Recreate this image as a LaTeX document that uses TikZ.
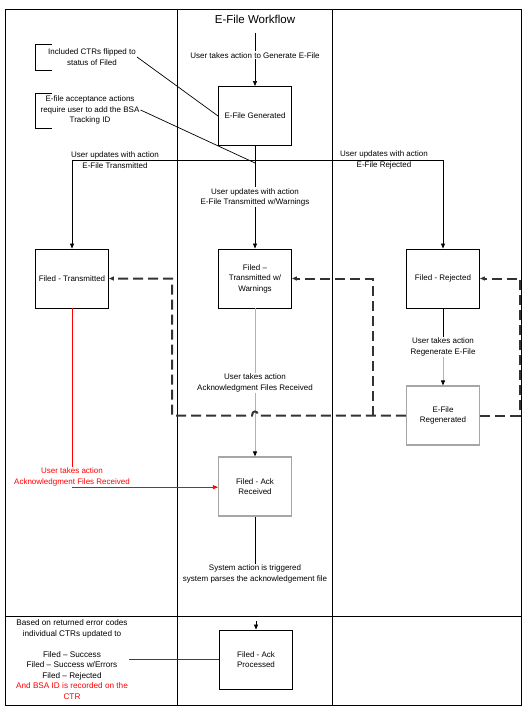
\documentclass[tikz,border=0pt]{standalone}
\usepackage{fontspec}
\setmainfont{Liberation Sans}
\usetikzlibrary{arrows.meta}

\begin{document}
\begin{tikzpicture}[x=1pt, y=-1pt,
	stage/.style={draw, line width=0.9pt, minimum width=73pt, minimum height=59pt, inner sep=1pt, align=center, font=\fontsize{8}{10.5}\selectfont},
	fadedstage/.style={stage, draw=black!35, line width=1.1pt},
	lbl/.style={align=center, inner sep=1pt, font=\fontsize{8}{10.5}\selectfont},
	flow/.style={line width=0.7pt, -{Triangle[length=5pt, width=4pt]}},
	grayflow/.style={line width=0.9pt, draw=black!30, -{Triangle[length=5pt, width=4pt, color=black]}},
	feedback/.style={line width=2pt, draw=black!80, dash pattern=on 10pt off 5pt, -{Triangle[length=5pt, width=4pt]}}]
	\useasboundingbox (0,0) rectangle (526,708);

	\draw[line width=0.9pt] (5,9) rectangle (521,705);
	\draw[line width=0.9pt] (177,9) -- (177,705);
	\draw[line width=0.9pt] (332,9) -- (332,705);
	\draw[line width=0.9pt] (5,616) -- (521,616);

	\node (title) at (255,19) {\fontsize{11.5}{13}\selectfont E-File Workflow};

	\node[stage] (gen) at (255,116) {E-File Generated};
	\node[stage] (trans) at (72,278.5) {Filed - Transmitted};
	\node[stage] (warn) at (255,278.5) {Filed --\\Transmitted w/\\Warnings};
	\node[stage] (rej) at (443,278.5) {Filed - Rejected};
	\node[fadedstage] (regen) at (443,415.5) {E-File\\Regenerated};
	\node[fadedstage] (ackrec) at (255,486.5) {Filed - Ack\\Received};
	\node[stage] (ackproc) at (256,659.5) {Filed - Ack\\Processed};

	\coordinate (start) at (255,33);
	\draw[flow] (start) -- node[lbl, fill=white, pos=0.42] {User takes action to Generate E-File} (gen);

	\coordinate (split) at (255,160);
	\draw[line width=0.7pt] (gen) -- (split);
	\draw[flow] (split) -| (trans);
	\draw[flow] (split) -| (rej);
	\draw[flow] (split) -- node[lbl, fill=white, pos=0.42] {User updates with action\\E-File Transmitted w/Warnings} (warn);
	\node[lbl] (translbl) at (115,160) {User updates with action\\E-File Transmitted};
	\node[lbl] (rejlbl) at (384,160) {User updates with action\\E-File Rejected};

	\node[lbl] (flipnote) at (92,57) {Included CTRs flipped to\\status of Filed};
	\draw[line width=0.7pt] (52,44) -- (35,44) -- (35,70) -- (52,70);
	\draw[line width=0.7pt] (flipnote.east) -- (gen.west);

	\node[lbl] (bsanote) at (90,110) {E-file acceptance actions\\require user to add the BSA\\Tracking ID};
	\draw[line width=0.7pt] (52,93) -- (35,93) -- (35,128) -- (52,128);
	\coordinate (tick) at (255,163);
	\draw[line width=0.7pt] (bsanote.east) -- (tick);

	\node[lbl, fill=white] (ackwlbl) at (255,383) {User takes action\\Acknowledgment Files Received};
	\draw[grayflow, -] (warn) -- (ackwlbl);
	\draw[grayflow] (ackwlbl) -- (ackrec);

	\node[lbl] (regenlbl) at (443,347) {User takes action\\Regenerate E-File};
	\draw[line width=0.7pt] (rej) -- (regenlbl);
	\draw[grayflow] (regenlbl) -- (regen);

	\coordinate (rloop) at (520,415.5);
	\coordinate (lloop) at (172,415.5);
	\coordinate (mloop) at (373,415.5);
	\draw[feedback] (regen.east) -- (rloop) |- (rej.east);
	\draw[feedback] (regen.west) -- (258,415.5) .. controls (258,410) and (252,410) .. (252,415.5) -- (lloop) |- (trans.east);
	\draw[feedback] (mloop) |- (warn.east);

	\node[lbl, text=red] (redlbl) at (72,477) {User takes action\\Acknowledgment Files Received};
	\draw[red, line width=0.7pt] (trans) -- (redlbl);
	\draw[red, flow] (redlbl.south) -- (redlbl.south -| ackrec.west);

	\node[lbl] (syslbl) at (255,574) {System action is triggered\\system parses the acknowledgement file};
	\draw[line width=0.7pt] (ackrec) -- (syslbl);
	\coordinate (proctop) at (256,621);
	\draw[flow] (proctop) -- (ackproc);

	\node[lbl, font=\fontsize{8.2}{10.5}\selectfont] (result) at (72,659.5) {Based on returned error codes\\individual CTRs updated to\\[10.5pt]Filed -- Success\\Filed -- Success w/Errors\\Filed -- Rejected\\\textcolor{red}{And BSA ID is recorded on the}\\\textcolor{red}{CTR}};
	\draw[line width=0.8pt, black!75] (result) -- (ackproc);
\end{tikzpicture}
\end{document}
